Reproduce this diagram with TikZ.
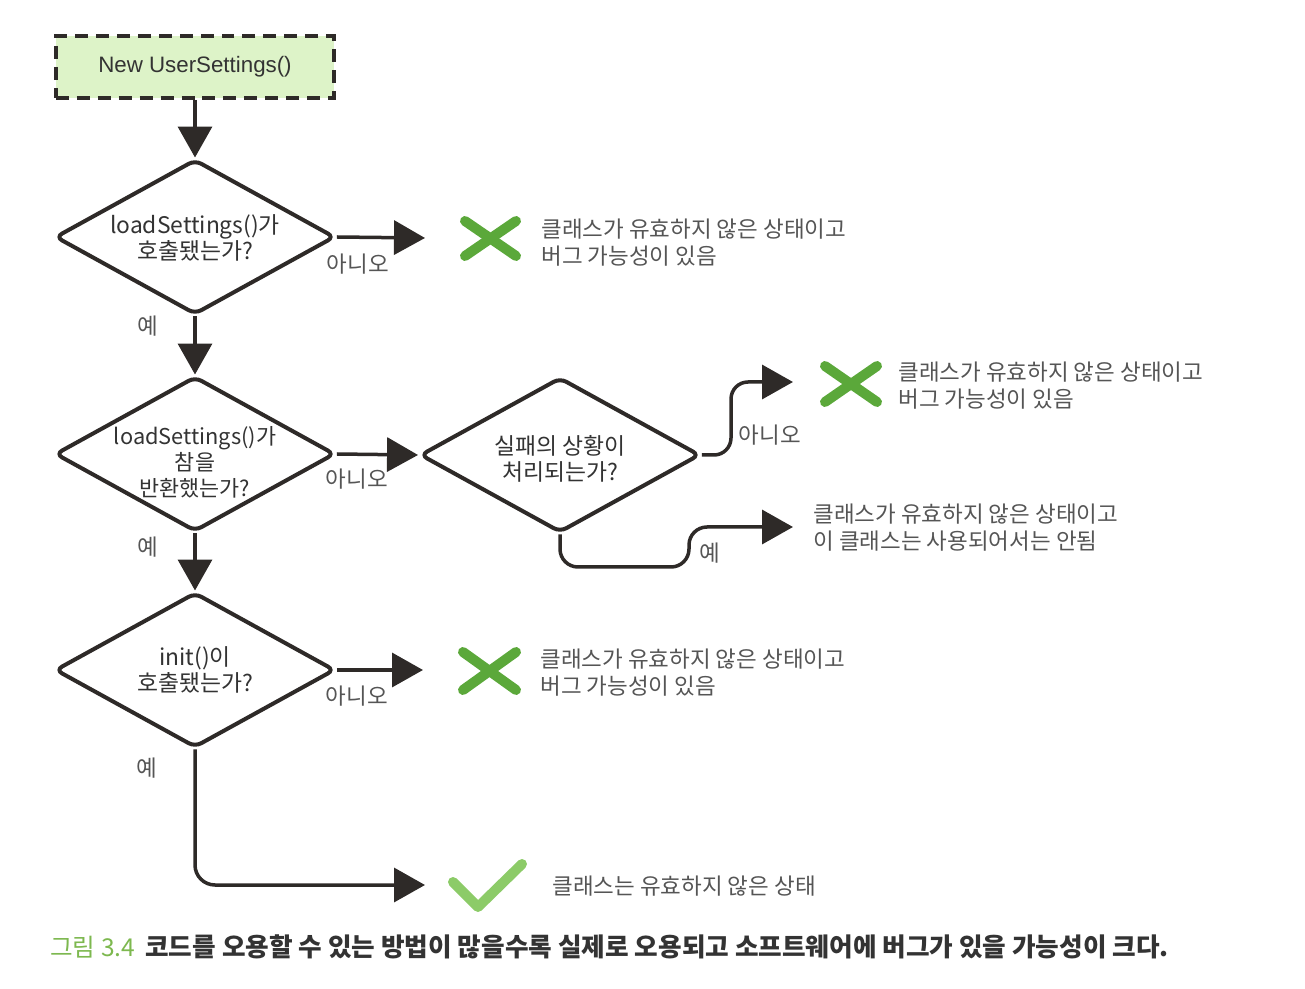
\documentclass[tikz,border=0pt]{standalone}
\usepackage{fontspec}
\setmainfont{Noto Sans CJK KR}
\newfontfamily\arialfont{Liberation Sans}
\usetikzlibrary{shapes.geometric,arrows.meta}
\definecolor{boxfill}{HTML}{DDF3C8}
\definecolor{linec}{HTML}{2E2A28}
\definecolor{txtc}{HTML}{333333}
\definecolor{lblc}{HTML}{555555}
\definecolor{xgreen}{HTML}{5BA83A}
\definecolor{chkgreen}{HTML}{8CCB68}
\definecolor{capgreen}{HTML}{7DB84F}
\begin{document}
\begin{tikzpicture}[x=0.02cm, y=-0.02cm,
  startbox/.style={draw=linec, fill=boxfill, line width=0.08cm, dash pattern=on 0.26cm off 0.16cm,
    minimum width=5.58cm, minimum height=1.24cm, inner sep=0pt, text=txtc,
    font=\arialfont\fontsize{12.7}{15}\selectfont},
  decision/.style={diamond, aspect=1.8, draw=linec, line width=0.08cm, fill=white, rounded corners=0.14cm,
    minimum width=5.6cm, minimum height=3.1cm, inner sep=0pt},
  dtext/.style={align=center, text=txtc, inner sep=0pt, font=\fontsize{13}{14.8}\selectfont},
  conn/.style={draw=linec, line width=0.07cm, -{Triangle[length=0.62cm,width=0.68cm]}},
  lbl/.style={text=lblc, font=\fontsize{12.8}{14}\selectfont},
  res/.style={text=lblc, align=left, anchor=west, inner sep=0pt, font=\fontsize{12.8}{15.4}\selectfont},
  xstroke/.style={draw=xgreen, line width=0.2cm, line cap=round},
  chkstroke/.style={draw=chkgreen, line width=0.2cm, line cap=round, line join=round}
]
\useasboundingbox (0,0) rectangle (1305,989);

% nodes
\node[startbox] (s) at (195,67) {New UserSettings()};
\node[decision] (d1) at (195,237) {};
\node[decision] (d2) at (195,454) {};
\node[decision] (d3) at (560,455) {};
\node[decision] (d4) at (195,670) {};
\node[dtext] (d1t) at (195,238) {loadSettings()가\\호출됐는가?};
\node[dtext, font=\fontsize{12.4}{14.8}\selectfont] (d2t) at (195,462) {loadSettings()가\\참을\\반환했는가?};
\node[dtext] (d3t) at (560,459) {실패의 상황이\\처리되는가?};
\node[dtext] (d4t) at (195,670) {init()이\\호출됐는가?};

% free ends
\coordinate (t1) at (425,238);
\coordinate (t2) at (793,382);
\coordinate (t3) at (793,527);
\coordinate (t4) at (423,670);
\coordinate (t5) at (425,885);

% connectors
\draw[conn] (s.south) -- (d1.north);
\draw[conn] (d1.south) -- (d2.north);
\draw[conn] (d2.south) -- (d4.north);
\draw[conn] (d1.east) -- (t1);
\draw[conn] (d2.east) -- (d3.west);
\draw[conn] (d4.east) -- (t4);
\draw[conn, rounded corners=0.34cm] (d3.east) -- (731,455) -- (731,382) -- (t2);
\draw[conn, rounded corners=0.36cm] (d3.south) -- (560,567) -- (689,567) -- (689,527) -- (t3);
\draw[conn, rounded corners=0.4cm] (d4.south) -- (195,885) -- (t5);

% labels
\node[lbl] (l1) at (358,264) {아니오};
\node[lbl] (l2) at (148,326) {예};
\node[lbl] (l3) at (357,479) {아니오};
\node[lbl] (l4) at (148,547) {예};
\node[lbl] (l5) at (770,435) {아니오};
\node[lbl] (l6) at (710,553) {예};
\node[lbl] (l7) at (357,696) {아니오};
\node[lbl] (l8) at (147,768) {예};

% marks
\draw[xstroke] (465,221) -- (516,256);
\draw[xstroke] (465,256) -- (516,221);
\draw[xstroke] (825,366) -- (877,402);
\draw[xstroke] (825,402) -- (877,366);
\draw[xstroke] (463,652) -- (516,690);
\draw[xstroke] (463,690) -- (516,652);
\draw[chkstroke] (453,882) -- (478,907) -- (522,864);

% results
\node[res] (r1) at (541,243) {클래스가 유효하지 않은 상태이고\\버그 가능성이 있음};
\node[res] (r2) at (898,386) {클래스가 유효하지 않은 상태이고\\버그 가능성이 있음};
\node[res] (r3) at (813,528) {클래스가 유효하지 않은 상태이고\\이 클래스는 사용되어서는 안됨};
\node[res] (r4) at (540,673) {클래스가 유효하지 않은 상태이고\\버그 가능성이 있음};
\node[res] (r5) at (552,886) {클래스는 유효하지 않은 상태};

% caption
\node[anchor=west, inner sep=0pt, text=capgreen, font=\fontsize{14}{16}\selectfont] (c1) at (50,947) {그림 3.4};
\node[anchor=west, inner sep=0pt, text=txtc, font=\bfseries\fontsize{14.6}{16}\selectfont] (c2) at (145,947) {코드를 오용할 수 있는 방법이 많을수록 실제로 오용되고 소프트웨어에 버그가 있을 가능성이 크다.};
\end{tikzpicture}
\end{document}
